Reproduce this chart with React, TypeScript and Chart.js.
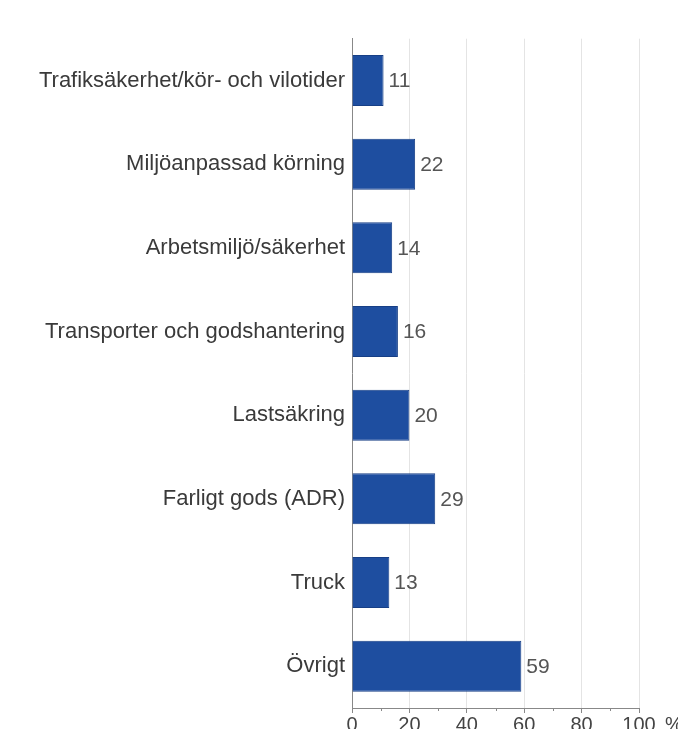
import React, { useEffect, useRef } from "react";
import { Chart, registerables } from "chart.js";

Chart.register(...registerables);

const categories: string[] = [
  "Trafiksäkerhet/kör- och vilotider",
  "Miljöanpassad körning",
  "Arbetsmiljö/säkerhet",
  "Transporter och godshantering",
  "Lastsäkring",
  "Farligt gods (ADR)",
  "Truck",
  "Övrigt",
];
const values: number[] = [11, 22, 14, 16, 20, 29, 13, 59];
const majorTicks: number[] = [0, 20, 40, 60, 80, 100];
const minorTicks: number[] = [10, 30, 50, 70, 90];
const unitLabel = "%";

const FONT = "'Liberation Sans', Arial, sans-serif";

export default function App() {
  const ref = useRef<HTMLCanvasElement | null>(null);

  useEffect(() => {
    if (!ref.current) return;

    const extras = {
      id: "extras",
      afterDatasetsDraw(chart: any) {
        const ctx = chart.ctx;
        const meta = chart.getDatasetMeta(0);
        ctx.save();
        ctx.font = `21px ${FONT}`;
        ctx.fillStyle = "#555555";
        ctx.textAlign = "left";
        ctx.textBaseline = "middle";
        meta.data.forEach((bar: any, i: number) => {
          ctx.fillText(String(values[i]), bar.x + 5, bar.y + 1);
        });
        ctx.restore();
      },
      afterDraw(chart: any) {
        const ctx = chart.ctx;
        const xs = chart.scales.x;
        ctx.save();
        ctx.strokeStyle = "#888888";
        ctx.lineWidth = 1;
        minorTicks.forEach((v) => {
          const px = Math.round(xs.getPixelForValue(v)) + 0.5;
          ctx.beginPath();
          ctx.moveTo(px, xs.top);
          ctx.lineTo(px, xs.top + 3);
          ctx.stroke();
        });
        ctx.font = `20px ${FONT}`;
        ctx.fillStyle = "#444444";
        ctx.textAlign = "left";
        ctx.textBaseline = "top";
        const p100 = xs.getPixelForValue(100);
        ctx.fillText(unitLabel, p100 + 26, xs.top + 7);
        ctx.restore();
      },
    };

    const chart = new Chart(ref.current, {
      type: "bar",
      data: {
        labels: categories,
        datasets: [
          {
            data: values,
            backgroundColor: "#1e4ea0",
            borderColor: "#173f86",
            borderWidth: 1,
            barPercentage: 0.61,
            categoryPercentage: 1,
          },
        ],
      },
      options: {
        indexAxis: "y",
        responsive: false,
        animation: false,
        layout: { padding: { top: 38.7, right: 39, left: 0, bottom: 0 } },
        plugins: {
          legend: { display: false },
          tooltip: { enabled: false },
        },
        scales: {
          x: {
            min: 0,
            max: 100,
            afterBuildTicks(scale: any) {
              scale.ticks = [...majorTicks, ...minorTicks]
                .sort((a, b) => a - b)
                .map((v) => ({ value: v }));
            },
            afterFit(scale: any) {
              scale.height = 21;
            },
            ticks: {
              autoSkip: false,
              maxRotation: 0,
              padding: 0,
              color: "#444444",
              font: { family: FONT, size: 20 },
              callback: (v: any) => (majorTicks.includes(Number(v)) ? String(v) : ""),
            },
            grid: {
              color: (c: any) =>
                c.tick && majorTicks.includes(c.tick.value) && c.tick.value !== 0
                  ? "#e4e4e4"
                  : "rgba(0,0,0,0)",
              tickColor: (c: any) =>
                c.tick && majorTicks.includes(c.tick.value) ? "#888888" : "rgba(0,0,0,0)",
              tickLength: 5,
            },
            border: { display: true, color: "#888888", width: 1 },
          },
          y: {
            afterFit(scale: any) {
              scale.width = 352;
            },
            ticks: {
              padding: 7,
              color: "#3a3a3a",
              font: { family: FONT, size: 22 },
            },
            grid: { display: false, drawTicks: false },
            border: { display: true, color: "#888888", width: 1 },
          },
        },
      },
      plugins: [extras],
    });

    return () => chart.destroy();
  }, []);

  return (
    <div style={{ position: "absolute", left: 0, top: 0, width: 678, height: 729, background: "#ffffff" }}>
      <canvas ref={ref} width={678} height={729} style={{ display: "block" }} />
    </div>
  );
}
